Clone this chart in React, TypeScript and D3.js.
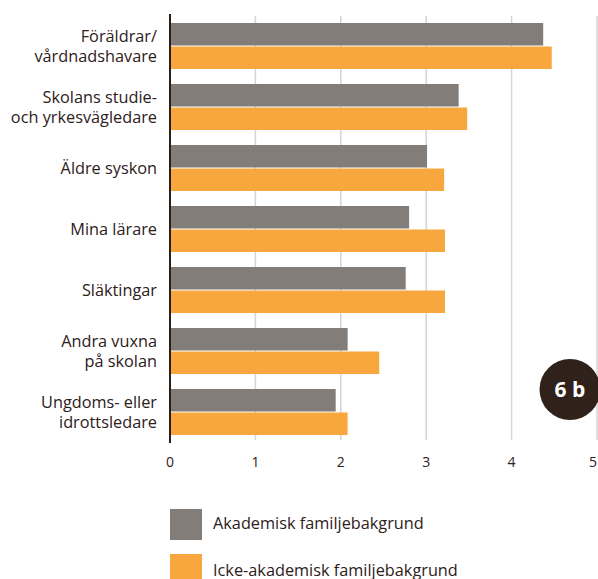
import React from "react";
import * as d3 from "d3";

const categories = [
  ["Föräldrar/", "vårdnadshavare"],
  ["Skolans studie-", "och yrkesvägledare"],
  ["Äldre syskon"],
  ["Mina lärare"],
  ["Släktingar"],
  ["Andra vuxna", "på skolan"],
  ["Ungdoms- eller", "idrottsledare"],
];
const akademisk = [4.37, 3.38, 3.01, 2.8, 2.76, 2.08, 1.94];
const ickeAkademisk = [4.47, 3.48, 3.21, 3.22, 3.22, 2.45, 2.08];
const ticks = [0, 1, 2, 3, 4, 5];
const seriesNames = ["Akademisk familjebakgrund", "Icke-akademisk familjebakgrund"];
const seriesColors = ["#827d79", "#f7a73e"];

const W = 598;
const H = 579;
const FONT = "'Open Sans', 'Noto Sans', sans-serif";
const TEXT = "#2d2019";

export default function App() {
  const x = d3.scaleLinear().domain([0, 5]).range([170, 597]);
  const y = d3
    .scaleBand<number>()
    .domain(d3.range(categories.length))
    .range([23 - 7.5, 23 - 7.5 + 61 * 7])
    .paddingInner(15 / 61)
    .paddingOuter(7.5 / 61);
  const sub = d3.scaleBand<number>().domain([0, 1]).range([0, y.bandwidth()]).paddingInner(2 / 46);
  const series = [akademisk, ickeAkademisk];

  return (
    <svg width={W} height={H} style={{ position: "absolute", left: 0, top: 0, background: "#fff" }} fontFamily={FONT}>
      {ticks.slice(1).map((t) => (
        <line key={t} x1={x(t)} x2={x(t)} y1={16} y2={440} stroke="#d4d4d4" strokeWidth={1.5} />
      ))}
      {categories.map((_, i) =>
        series.map((s, k) => (
          <rect
            key={i + "-" + k}
            x={x(0)}
            y={(y(i) as number) + (sub(k) as number)}
            width={x(s[i]) - x(0)}
            height={sub.bandwidth()}
            fill={seriesColors[k]}
          />
        ))
      )}
      <line x1={x(0)} x2={x(0)} y1={14} y2={443} stroke="#2a1f17" strokeWidth={2} />
      {ticks.map((t) => (
        <text key={t} x={Math.min(x(t), 593)} y={467} textAnchor="middle" fontSize={14} fill={TEXT}>
          {t}
        </text>
      ))}
      {categories.map((lines, i) => {
        const cy = (y(i) as number) + y.bandwidth() / 2;
        const lh = 20;
        const start = cy - ((lines.length - 1) * lh) / 2 + 6;
        return (
          <text key={i} textAnchor="end" fontSize={16.3} fill={TEXT}>
            {lines.map((l, j) => (
              <tspan key={j} x={157} y={start + j * lh}>
                {l}
              </tspan>
            ))}
          </text>
        );
      })}
      <circle cx={570} cy={389.5} r={30.5} fill="#30221a" />
      <text x={570} y={397} textAnchor="middle" fontSize={21} fontWeight={700} fill="#fff">
        6 b
      </text>
      {seriesNames.map((n, k) => (
        <g key={n}>
          <rect x={170} y={509 + k * 45} width={32} height={31} fill={seriesColors[k]} />
          <text x={213} y={528.5 + k * 47} fontSize={16.3} fill={TEXT}>
            {n}
          </text>
        </g>
      ))}
    </svg>
  );
}
